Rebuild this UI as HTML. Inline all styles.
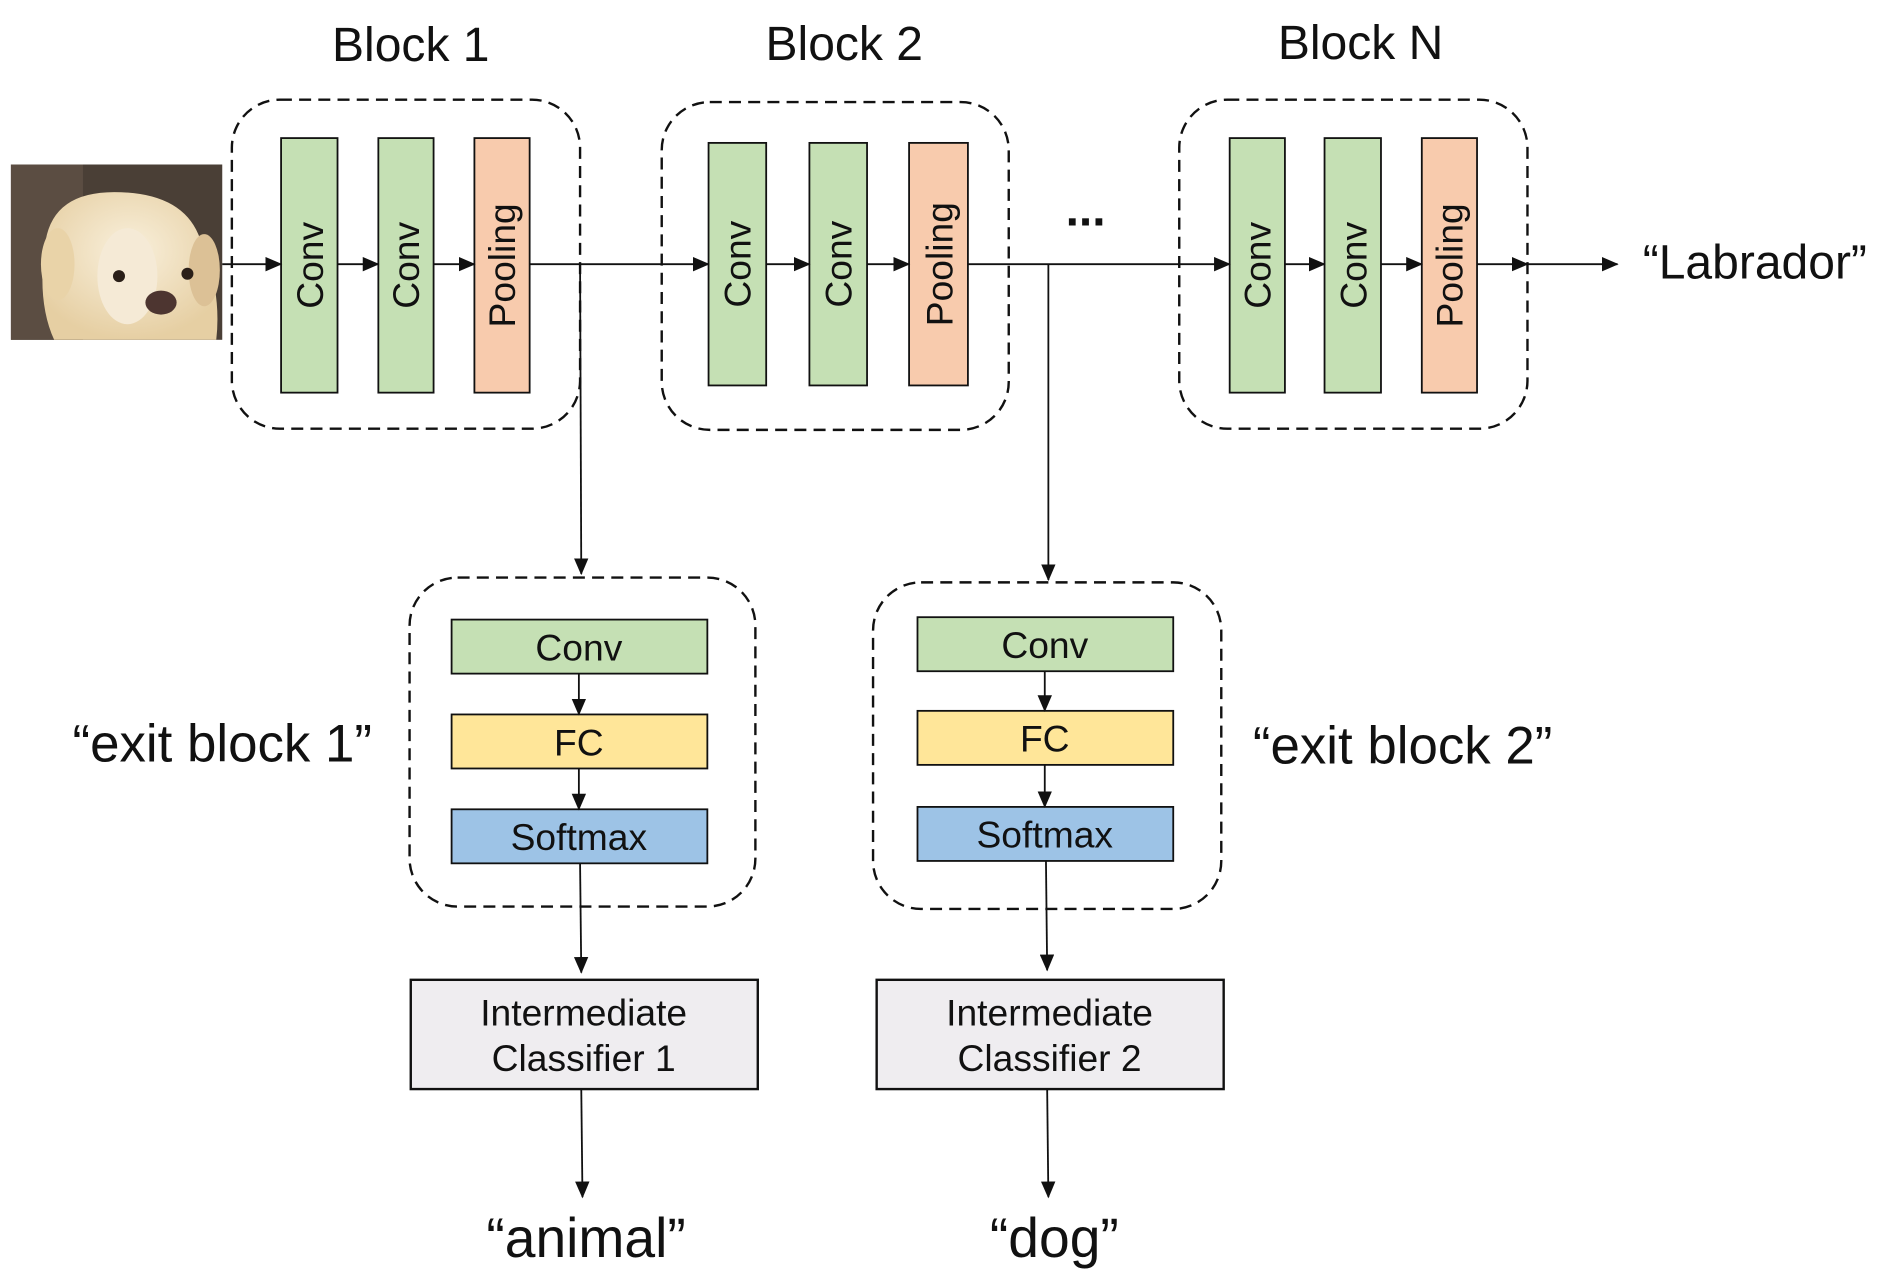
<!DOCTYPE html>
<html><head><style>
html,body{margin:0;padding:0;background:#fff;}
svg{display:block;}
text{font-family:"Liberation Sans","DejaVu Sans",sans-serif;fill:#111;}
</style></head><body>
<svg width="1883" height="1280" viewBox="0 0 1568 1066" xmlns="http://www.w3.org/2000/svg">
<defs>
<marker id="a" markerWidth="14" markerHeight="12" refX="13" refY="6" orient="auto" markerUnits="userSpaceOnUse"><path d="M0,0 L14,6 L0,12 z" fill="#111"/></marker>
<radialGradient id="fur" cx="0.5" cy="0.4" r="0.6"><stop offset="0" stop-color="#f9f0dc"/><stop offset="1" stop-color="#e6cfa3"/></radialGradient>
</defs>
<rect x="9" y="137" width="176" height="146" fill="#4a3f36"/>
<rect x="9" y="137" width="60" height="146" fill="#5b4d42"/>
<path d="M38,200 Q45,160 95,160 Q150,160 165,195 Q185,240 180,283 L45,283 Q30,250 38,200z" fill="url(#fur)"/>
<ellipse cx="48" cy="220" rx="14" ry="30" fill="#e9d3a8"/>
<ellipse cx="170" cy="225" rx="13" ry="30" fill="#dcc196"/>
<ellipse cx="106" cy="230" rx="25" ry="40" fill="#f5ead6"/>
<circle cx="99" cy="230" r="5" fill="#2a1f18"/><circle cx="156" cy="228" r="5" fill="#2a1f18"/>
<ellipse cx="134" cy="252" rx="13" ry="10" fill="#4d3530"/>
<g font-size="40" text-anchor="middle">
<text x="342" y="51">Block 1</text><text x="703" y="50">Block 2</text><text x="1133" y="49">Block N</text>
</g>
<g fill="none" stroke="#111" stroke-width="2" stroke-dasharray="10,6">
<rect x="193" y="83" width="290" height="274" rx="40"/>
<rect x="551" y="85" width="289" height="273" rx="40"/>
<rect x="982" y="83" width="290" height="274" rx="40"/>
<rect x="341" y="481" width="288" height="274" rx="40"/>
<rect x="727" y="485" width="290" height="272" rx="40"/>
</g>
<g stroke="#111" stroke-width="1.5">
<rect x="234" y="115" width="47" height="212" fill="#c5e0b4"/>
<rect x="315" y="115" width="46" height="212" fill="#c5e0b4"/>
<rect x="395" y="115" width="46" height="212" fill="#f8cbad"/>
<rect x="590" y="119" width="48" height="202" fill="#c5e0b4"/>
<rect x="674" y="119" width="48" height="202" fill="#c5e0b4"/>
<rect x="757" y="119" width="49" height="202" fill="#f8cbad"/>
<rect x="1024" y="115" width="46" height="212" fill="#c5e0b4"/>
<rect x="1103" y="115" width="47" height="212" fill="#c5e0b4"/>
<rect x="1184" y="115" width="46" height="212" fill="#f8cbad"/>
<rect x="376" y="516" width="213" height="45" fill="#c5e0b4"/>
<rect x="376" y="595" width="213" height="45" fill="#ffe699"/>
<rect x="376" y="674" width="213" height="45" fill="#9dc3e6"/>
<rect x="764" y="514" width="213" height="45" fill="#c5e0b4"/>
<rect x="764" y="592" width="213" height="45" fill="#ffe699"/>
<rect x="764" y="672" width="213" height="45" fill="#9dc3e6"/>
<rect x="342" y="816" width="289" height="91" fill="#efedf0" stroke-width="2"/>
<rect x="730" y="816" width="289" height="91" fill="#efedf0" stroke-width="2"/>
</g>
<g font-size="31" text-anchor="middle">
<text transform="translate(269,221) rotate(-90)">Conv</text>
<text transform="translate(349,221) rotate(-90)">Conv</text>
<text transform="translate(429,221) rotate(-90)">Pooling</text>
<text transform="translate(625,220) rotate(-90)">Conv</text>
<text transform="translate(709,220) rotate(-90)">Conv</text>
<text transform="translate(793,220) rotate(-90)">Pooling</text>
<text transform="translate(1058,221) rotate(-90)">Conv</text>
<text transform="translate(1138,221) rotate(-90)">Conv</text>
<text transform="translate(1218,221) rotate(-90)">Pooling</text>
<text x="482" y="550">Conv</text><text x="482" y="629">FC</text><text x="482" y="708">Softmax</text>
<text x="870" y="548">Conv</text><text x="870" y="626">FC</text><text x="870" y="706">Softmax</text>
<text x="486" y="854">Intermediate</text><text x="486" y="892">Classifier 1</text>
<text x="874" y="854">Intermediate</text><text x="874" y="892">Classifier 2</text>
</g>
<g stroke="#111" stroke-width="1.5" marker-end="url(#a)">
<line x1="185" y1="220" x2="234" y2="220"/>
<line x1="281" y1="220" x2="315" y2="220"/>
<line x1="361" y1="220" x2="395" y2="220"/>
<line x1="441" y1="220" x2="590" y2="220"/>
<line x1="638" y1="220" x2="674" y2="220"/>
<line x1="722" y1="220" x2="757" y2="220"/>
<line x1="806" y1="220" x2="1024" y2="220"/>
<line x1="1070" y1="220" x2="1103" y2="220"/>
<line x1="1150" y1="220" x2="1184" y2="220"/>
<line x1="1230" y1="220" x2="1272" y2="220"/>
<line x1="1272" y1="220" x2="1347" y2="220"/>
<line x1="483" y1="220" x2="484" y2="478"/>
<line x1="873" y1="220" x2="873" y2="483"/>
<line x1="482" y1="561" x2="482" y2="595"/>
<line x1="482" y1="640" x2="482" y2="674"/>
<line x1="870" y1="559" x2="870" y2="592"/>
<line x1="870" y1="637" x2="870" y2="672"/>
<line x1="483" y1="719" x2="484" y2="810"/>
<line x1="871" y1="717" x2="872" y2="808"/>
<line x1="484" y1="907" x2="485" y2="997"/>
<line x1="872" y1="907" x2="873" y2="997"/>
</g>
<text x="904" y="188" font-size="40" text-anchor="middle" font-weight="bold">...</text>
<text x="1368" y="232" font-size="40">“Labrador”</text>
<text x="185" y="634" font-size="44" text-anchor="middle">“exit block 1”</text>
<text x="1168" y="636" font-size="44" text-anchor="middle">“exit block 2”</text>
<text x="488" y="1047" font-size="46" text-anchor="middle">“animal”</text>
<text x="878" y="1047" font-size="46" text-anchor="middle">“dog”</text>
</svg>
</body></html>
